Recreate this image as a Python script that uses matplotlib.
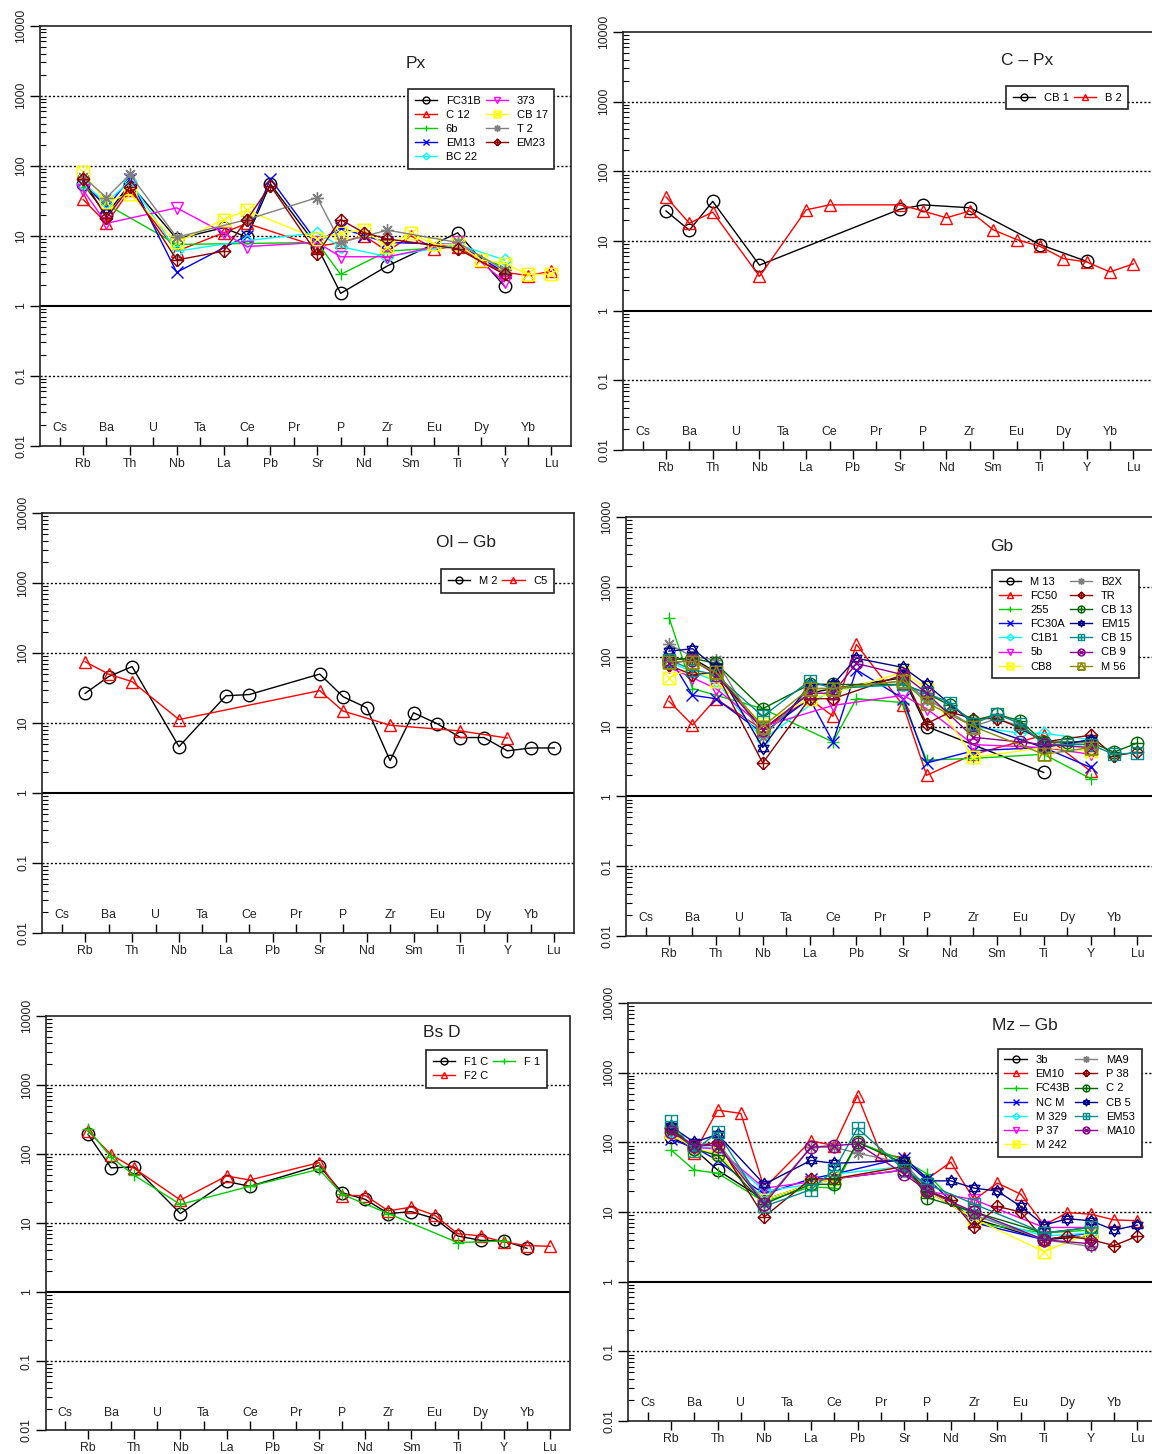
import matplotlib
matplotlib.use('Agg')
import matplotlib.pyplot as plt
import numpy as np
from matplotlib.path import Path
from matplotlib.ticker import LogLocator, NullFormatter

plt.rcParams['font.family'] = ['Liberation Sans', 'DejaVu Sans']

_ = None
elements = ['Cs', 'Rb', 'Ba', 'Th', 'U', 'Nb', 'Ta', 'La', 'Ce', 'Pb', 'Pr',
            'Sr', 'P', 'Nd', 'Zr', 'Sm', 'Eu', 'Ti', 'Dy', 'Y', 'Yb', 'Lu']

# ---- Px
px_names = ['FC31B', 'C 12', '6b', 'EM13', 'BC 22', '373', 'CB 17', 'T 2', 'EM23']
px_values = [
    [_, 55, 20, 55, _, 9, _, 13, 9.5, 55, _, 7, 1.5, _, 3.7, _, _, 11, _, 1.9, _, _],
    [_, 33, 15, 45, _, 6, _, 11, 15, _, _, 7, 8, 10, 6, 10, 6.5, 7, 4.3, 3, 2.7, 3.1],
    [_, 50, 28, _, _, 7.5, _, _, _, _, _, 8, 2.8, _, 6, _, _, 7, _, 3.5, _, _],
    [_, 60, 25, 65, _, 3, _, _, 10, 65, _, 8, 13, 10, 8, _, _, 7.5, _, 3, _, _],
    [_, 55, 30, 60, _, 6, _, _, 8.5, _, _, 11, 7, _, 5, _, _, 7.5, _, 4.5, _, _],
    [_, 45, 15, _, _, 25, _, 11, 7, _, _, 8, 5, _, 5, _, _, 8, _, 2.2, _, _],
    [_, 80, 30, 40, _, 8, _, 17, 23, _, _, 9, 11, 12, 7, 11, 7.5, 7.5, 4.5, 4, 2.8, 2.8],
    [_, 70, 35, 75, _, 9.5, _, _, 17, _, _, 35, 8, _, 12, _, _, 8, _, 3.2, _, _],
    [_, 65, 18, 50, _, 4.5, _, 6, 17, 52, _, 5.5, 17, 11, 9, _, _, 6.5, _, 2.8, _, _],
]

# ---- C - Px
cpx_names = ['CB 1', 'B 2']
cpx_values = [
    [_, 27, 14.3, 37, _, 4.5, _, _, _, _, _, 28.5, 33, _, 30, _, _, 8.9, _, 5.1, _, _],
    [_, 43, 18, 26, _, 3.1, _, 28, 33, _, _, 33, 27, 21.5, 27, 14.5, 10.5, 8.4, 5.6, 5.0, 3.6, 4.7],
]

# ---- Ol - Gb
olgb_names = ['M 2', 'C5']
olgb_values = [
    [_, 26.5, 46, 64, _, 4.6, _, 24.5, 25.5, _, _, 50, 23.7, 16.5, 2.9, 14, 9.8, 6.2, 6.2, 4.0, 4.4, 4.4],
    [_, 75, 50, 39, _, 11.2, _, _, _, _, _, 29, 14.8, _, 9.3, _, _, 7.7, _, 6.1, _, _],
]

# ---- Gb
gb_names = ['M 13', 'FC50', '255', 'FC30A', 'C1B1', '5b', 'CB8',
            'B2X', 'TR', 'CB 13', 'EM15', 'CB 15', 'CB 9', 'M 56']
gb_values = [
    [_, 90, 95, 60, _, 9, _, 30, 35, _, _, 50, 10, _, _, _, _, 2.2, _, _, _, _],
    [_, 23, 10.5, 25, _, 9, _, 25, 14, 150, _, 20, 2, _, 4, _, _, 7.5, _, 2.3, _, _],
    [_, 360, 35, _, _, 18, _, _, 6, 25, _, 22, 3.3, _, 3.5, _, _, 4, _, 1.8, _, _],
    [_, 100, 28, 25, _, 8, _, 25, 6, 65, _, 25, 3, _, 4.5, _, _, 5, _, 2.6, _, _],
    [_, 85, 60, 45, _, 6.5, _, _, 35, _, _, 40, 25, _, 10, _, 8, 8, _, 6.5, _, _],
    [_, 70, 50, 35, _, 10, _, _, 20, _, _, 28, 18, _, 5.5, _, _, 5, _, 4, _, _],
    [_, 50, 70, 45, _, 11, _, 25, 30, _, _, 60, 35, _, 3.6, _, _, 5, _, 4.5, _, _],
    [_, 150, 100, 90, _, 7, _, 35, 35, _, _, 45, 25, _, 10, 13, 10, 6, _, 5.5, _, _],
    [_, 75, 55, 60, _, 3, _, 25, 25, _, _, 55, 11, 16, 13, 13, 9.5, 6, _, 7.5, 3.8, 4.3],
    [_, 90, 95, 80, _, 18, _, 40, 40, _, _, 40, 30, 20, 12, 15, 12, 6, 6, 6, 4.3, 5.8],
    [_, 120, 130, 70, _, 5, _, 40, 40, 95, _, 70, 40, _, 11, _, _, 5, _, 6.5, _, _],
    [_, 90, 65, 55, _, 14, _, 45, 35, _, _, 40, 30, 22, 11, 15, 11, 5.5, 5.5, 5.5, 4, 4.2],
    [_, 80, 90, 55, _, 9, _, 30, 30, 80, _, 55, 30, _, 7, _, 6, 5.5, _, 5, _, _],
    [_, 85, 85, 60, _, 10, _, 35, 35, _, _, 45, 22, _, 10, _, _, 4, _, 5, _, _],
]

# ---- Bs D
bsd_names = ['F1 C', 'F2 C', 'F 1']
bsd_values = [
    [_, 193, 63, 65, _, 13.7, _, 40, 34, _, _, 68, 27.5, 22, 13.7, 14.6, 11.6, 6.5, 5.6, 5.5, 4.3, _],
    [_, 215, 98, 62, _, 21.5, _, 48, 42, _, _, 75, 25, 25, 15, 17, 13, 7, 6.5, 5.3, 4.7, 4.6],
    [_, 228, 90, 49, _, 18.6, _, _, 34, _, _, 60, 26, _, 13.7, _, _, 5.2, _, 5.5, _, _],
]

# ---- Mz - Gb
mzgb_names = ['3b', 'EM10', 'FC43B', 'NC M', 'M 329', 'P 37', 'M 242',
              'MA9', 'P 38', 'C 2', 'CB 5', 'EM53', 'MA10']
mzgb_values = [
    [_, 120, 80, 40, _, 15, _, 25, 30, _, _, 40, 20, _, 8, _, _, 4, _, 4.5, _, _],
    [_, 160, 70, 290, 260, 22, _, 105, 90, 470, 68, 60, 30, 52, 15, 26, 18, 6.5, 9.8, 9.3, 7.7, 7.5],
    [_, 78, 40, 36, _, 14, _, 23, 22, 100, _, 55, 35, _, 7, _, _, 5, _, 5.5, _, _],
    [_, 110, 85, 55, _, 18, _, 30, 35, _, _, 60, 30, _, 7, _, _, 4, _, 5, _, _],
    [_, 140, 90, 80, _, 20, _, 25, 35, _, _, 45, 22, _, 9, _, _, 4.5, _, 5, _, _],
    [_, 150, 85, 80, _, 22, _, 27, 30, _, _, 40, 20, _, 15, _, _, 6, _, 6, _, _],
    [_, 140, 80, 70, _, 15, _, 25, 30, _, _, 45, 20, _, 8, _, _, 2.7, _, 5, _, _],
    [_, 150, 90, 100, _, 14, _, 85, 85, 70, _, 50, 22, _, 9, _, _, 4, _, 3.2, _, _],
    [_, 160, 85, 100, _, 8.5, _, 30, 30, _, _, 45, 20, 15, 6, 12, 10, 4, 4.5, 4, 3.3, 4.5],
    [_, 160, 80, 65, _, 13, _, 25, 25, 100, _, 50, 16, _, 10, _, _, 5, _, 6, _, _],
    [_, 170, 100, 130, _, 25, _, 55, 50, _, _, 55, 28, 28, 22, 20, 12, 6.5, 8, 7.5, 5.5, 6.5],
    [_, 200, 75, 140, _, 12, _, 21, 40, 160, _, 40, 25, _, 13, _, _, 5, _, 6, _, _],
    [_, 140, 90, 90, _, 13, _, 85, 90, 95, _, 35, 20, _, 10, _, _, 4, _, 3.5, _, _],
]

colors = ['black', 'red', '#00CD00', 'blue', 'cyan', 'magenta', 'yellow', 'gray',
          '#8B0000', '#006400', '#00008B', '#008B8B', '#8B008B', '#8B8B00']


# R-like pch symbols 1..14
def poly(pts, closed=True):
    verts = list(pts) + ([pts[0]] if closed else [])
    return Path(verts, [Path.MOVETO] + [Path.LINETO] * (len(verts) - 1))


def comp(*paths):
    return Path.make_compound_path(*paths)


circ = Path.unit_circle()
sq = poly([(-1, -1), (1, -1), (1, 1), (-1, 1)])
dia = poly([(0, -1), (1, 0), (0, 1), (-1, 0)])
plus = comp(poly([(-1, 0), (1, 0)], False), poly([(0, -1), (0, 1)], False))
xsq = comp(poly([(-1, -1), (1, 1)], False), poly([(-1, 1), (1, -1)], False))
k = 0.707
xcirc = comp(poly([(-k, -k), (k, k)], False), poly([(-k, k), (k, -k)], False))
up = poly([(-0.87, -0.5), (0.87, -0.5), (0, 1)])
down = poly([(-0.87, 0.5), (0.87, 0.5), (0, -1)])
tri_in = poly([(-1, -1), (1, -1), (0, 1)])

markers = ['o', '^', '+', 'x', dia, 'v', comp(sq, xsq), (8, 2, 0),
           comp(dia, plus), comp(circ, plus), comp(up, down), comp(sq, plus),
           comp(circ, xcirc), comp(sq, tri_in)]

W, H = 1152, 1454
fig = plt.figure(figsize=(W / 100, H / 100), dpi=100)
x = np.arange(1, 23)


def panel(px_box, names, values, title, tpos, lpos, lfs=8):
    x0, y0, x1, y1 = px_box
    ax = fig.add_axes([x0 / W, 1 - y1 / H, (x1 - x0) / W, (y1 - y0) / H])
    ax.set_yscale('log')
    for yv in [0.1, 10, 100, 1000]:
        ax.axhline(yv, color='black', ls=(0, (1.5, 1.5)), lw=1, zorder=1)
    ax.axhline(1, color='black', lw=1.5, zorder=1)

    for i, (name, vals) in enumerate(zip(names, values)):
        v = np.array([np.nan if a is None else a for a in vals], float)
        ok = ~np.isnan(v)
        ax.plot(x[ok], v[ok], color=colors[i], marker=markers[i], ms=9,
                mfc='none', mew=1, lw=1, label=name, zorder=3)

    ax.set_xlim(0.16, 22.84)
    ax.set_ylim(0.01, 10000)
    ax.set_yticks([0.01, 0.1, 1, 10, 100, 1000, 10000])
    ax.set_yticklabels(['0.01', '0.1', '1', '10', '100', '1000', '10000'],
                       rotation=90, va='center')
    ax.yaxis.set_minor_locator(LogLocator(base=10, subs=np.arange(2, 10), numticks=20))
    ax.yaxis.set_minor_formatter(NullFormatter())
    ax.tick_params(axis='y', which='major', direction='out', length=7, width=1,
                   pad=2, labelsize=8.8, labelcolor='#222222')
    ax.tick_params(axis='y', which='minor', direction='in', length=4.5, width=0.8)

    ax.set_xticks(x[1::2])
    ax.set_xticklabels(elements[1::2])
    ax.set_xticks(x[0::2], minor=True)
    ax.tick_params(axis='x', which='major', direction='out', length=6.5, width=1,
                   pad=2, labelsize=8.8, labelcolor='#222222')
    ax.tick_params(axis='x', which='minor', direction='in', length=6.5, width=1)
    for xi, el in zip(x[0::2], elements[0::2]):
        ax.text(xi, 0.0179, el, ha='center', va='center', fontsize=8.8, color='#222222')

    for sp in ax.spines.values():
        sp.set_linewidth(1.2)
        sp.set_color('#222222')

    ax.text(tpos[0], tpos[1], title, transform=ax.transAxes, ha='center',
            va='center', fontsize=12.5, color='#222222')

    leg = ax.legend(loc='upper left', bbox_to_anchor=lpos, ncol=2, fontsize=lfs,
                    markerscale=0.55, handlelength=2.0, handletextpad=0.8,
                    columnspacing=0.45, labelspacing=0.37, borderpad=0.6,
                    borderaxespad=0, frameon=True, fancybox=False, framealpha=1,
                    edgecolor='#222222')
    leg.get_frame().set_linewidth(1.2)
    leg.set_zorder(5)
    return ax


panel((40, 25.7, 571, 445.7), px_names, px_values, 'Px', (0.708, 0.911), (0.693, 0.849))
panel((623, 32, 1153, 450), cpx_names, cpx_values, 'C \u2013 Px', (0.762, 0.931), (0.723, 0.871))
panel((42, 513, 574, 933), olgb_names, olgb_values, 'Ol \u2013 Gb', (0.797, 0.929), (0.75, 0.866))
panel((626, 517, 1157, 936), gb_names, gb_values, 'Gb', (0.708, 0.929), (0.69, 0.873))
panel((45.5, 1016, 569.5, 1430), bsd_names, bsd_values, 'Bs D', (0.757, 0.961), (0.726, 0.917))
panel((628, 1003, 1157, 1421), mzgb_names, mzgb_values, 'Mz \u2013 Gb', (0.75, 0.945), (0.699, 0.891))

fig.savefig('out.png', dpi=100)
